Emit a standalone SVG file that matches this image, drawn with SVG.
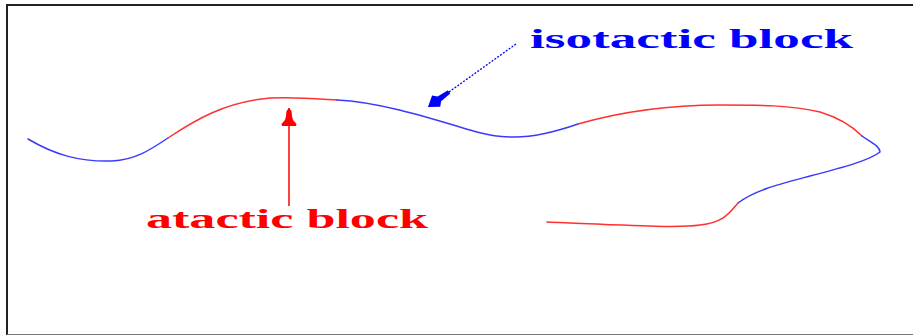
<svg xmlns="http://www.w3.org/2000/svg" width="913" height="335" viewBox="0 0 913 335">
<style>
.b{fill:none;stroke:#3a3aff;stroke-width:1.5;stroke-linecap:round}
.r{fill:none;stroke:#ff3030;stroke-width:1.5;stroke-linecap:round}
.lbl{font-family:"Liberation Serif","Times New Roman",serif;font-weight:bold;font-size:27px}
</style>
<defs>
<marker id="ahR" markerUnits="userSpaceOnUse" markerWidth="24" markerHeight="20" viewBox="0 -10 24 20" refX="19" refY="0" orient="auto">
<path d="M19,0 L16,-2.5 L11,-3 L7,-4 L3,-7.5 L1,-7 L1,7 L3,7.5 L7,4 L11,3 L16,2.5 Z" fill="#ff0000"/>
</marker>
<marker id="ahB" markerUnits="userSpaceOnUse" markerWidth="32" markerHeight="22" viewBox="0 -11 32 22" refX="26" refY="0" orient="auto">
<path d="M26,0 L16,-7 L12,-3 L0,-2 L0,2 L12,3 L16,7 Z" fill="#0000ff"/>
</marker>
</defs>
<rect x="0" y="0" width="913" height="335" fill="#fff"/>
<g id="frame">
<line x1="6" y1="5" x2="913" y2="5" stroke="#222" stroke-width="2"/>
<line x1="7" y1="4" x2="7" y2="335" stroke="#222" stroke-width="2"/>
<line x1="7" y1="334.5" x2="913" y2="334.5" stroke="#777" stroke-width="1"/>
</g>
<g id="chain">
<path class="b" d="M28,139 C55,155 80,162 112,161 C135,160 150,150 168,138"/>
<path class="r" d="M168,138 C195,120 225,102 270,98 C300,97 320,99 337,100"/>
<path class="b" d="M337,100 C380,102 430,118 470,130 C490,136 500,137 515,137 C535,137 555,132 578,124"/>
<path class="r" d="M578,124 C620,112 670,105 720,105 C760,105 790,105 820,112 C840,118 852,126 862,136"/>
<path class="b" d="M862,136 C870,142 880,146 880,152 C870,160 845,167 810,176 C780,184 755,190 738,203"/>
<path class="r" d="M738,203 C730,212 725,222 700,225 C680,228 640,226 547,222"/>
</g>
<g id="connectors">
<line x1="289" y1="206" x2="289" y2="108" stroke="#ff0000" stroke-width="1.5" marker-end="url(#ahR)"/>
<line x1="516" y1="44" x2="428" y2="107" stroke="#0000ff" stroke-width="1.3" stroke-dasharray="2,1.5" marker-end="url(#ahB)"/>
</g>
<g id="isotactic">
<text class="lbl" x="530" y="48" fill="#0000ff" textLength="323" lengthAdjust="spacingAndGlyphs">isotactic block</text>
</g>
<g id="atactic">
<text class="lbl" x="146" y="228" fill="#ff0000" textLength="282" lengthAdjust="spacingAndGlyphs">atactic block</text>
</g>
</svg>
